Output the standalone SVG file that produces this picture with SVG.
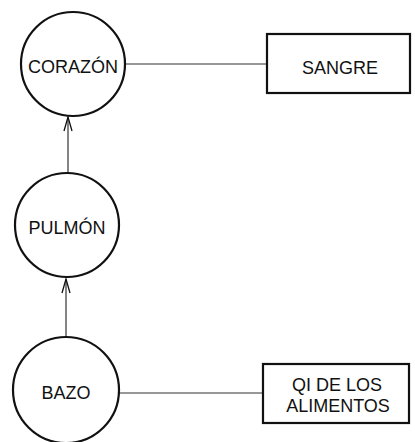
<svg xmlns="http://www.w3.org/2000/svg" width="415" height="442" viewBox="0 0 415 442">
<defs>
<style>
.node{fill:#fff;stroke:#111;stroke-width:2.2}
.edge{fill:none;stroke:#333;stroke-width:1.2}
text{font-family:"Liberation Sans",Arial,sans-serif;font-size:18px;fill:#111;text-anchor:middle}
</style>
<marker id="arr" markerUnits="userSpaceOnUse" markerWidth="18" markerHeight="12" viewBox="-16 -6 18 12" refX="0" refY="0" orient="auto">
<path d="M-14,-4 L0,0 L-14,4" fill="none" stroke="#111" stroke-width="1.3"/>
</marker>
</defs>
<rect width="415" height="442" fill="#fff"/>
<g id="connectors">
<line class="edge" x1="126" y1="64" x2="267" y2="64"/>
<line class="edge" x1="119" y1="393" x2="263" y2="393"/>
<line class="edge" x1="68" y1="173" x2="68" y2="117" marker-end="url(#arr)"/>
<line class="edge" x1="66" y1="337" x2="66" y2="279" marker-end="url(#arr)"/>
</g>
<g id="corazon">
<circle class="node" cx="73" cy="64" r="52"/>
<text x="73" y="73">CORAZÓN</text>
</g>
<g id="pulmon">
<circle class="node" cx="67" cy="225" r="52"/>
<text x="67" y="234">PULMÓN</text>
</g>
<g id="bazo">
<circle class="node" cx="66" cy="390" r="53"/>
<text x="66" y="399">BAZO</text>
</g>
<g id="sangre">
<rect class="node" x="267" y="34" width="143" height="59"/>
<text x="340" y="74">SANGRE</text>
</g>
<g id="qi">
<rect class="node" x="263" y="364" width="146" height="59"/>
<text x="337" y="391">QI DE LOS</text>
<text x="338" y="412">ALIMENTOS</text>
</g>
</svg>
